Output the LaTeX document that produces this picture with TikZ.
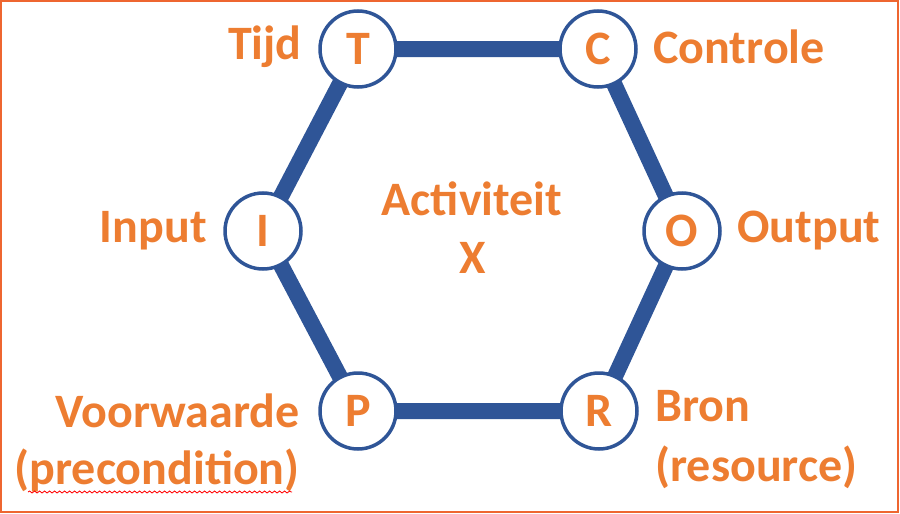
\documentclass[tikz,border=0pt]{standalone}
\usepackage{fontspec}
\setmainfont{Carlito}
\usetikzlibrary{decorations.pathmorphing,backgrounds}
\definecolor{hexblue}{HTML}{2F5597}
\definecolor{txtorange}{HTML}{ED7D31}
\definecolor{frameorange}{HTML}{EE6630}
\begin{document}
\begin{tikzpicture}[x=0.5pt,y=-0.5pt,
  letter/.style={circle,draw=hexblue,line width=1.75pt,fill=white,minimum size=38pt,inner sep=0pt,
    text=txtorange,font=\fontsize{24}{28}\selectfont\bfseries},
  lbl/.style={text=txtorange,font=\fontsize{24}{28}\selectfont\bfseries,inner sep=0pt},
  side/.style={line width=8pt,draw=hexblue}]
\useasboundingbox (0,0) rectangle (900,514);
\draw[frameorange,line width=1pt] (1,1) rectangle (898,512);
% vertices
\node[letter] (T) at (358,49) {T};
\node[letter] (C) at (598,49) {C};
\node[letter] (O) at (682,231) {O};
\node[letter] (R) at (599,411) {R};
\node[letter] (P) at (358,411) {P};
\node[letter] (I) at (263,231) {I};
\begin{scope}[on background layer]
\draw[side] (T.center) -- (C.center) -- (O.center) -- (R.center) -- (P.center) -- (I.center) -- cycle;
\end{scope}
% labels
\node[lbl,anchor=base east] (tijd) at (302,59) {Tijd};
\node[lbl,anchor=base west] (controle) at (653,63) {Controle};
\node[lbl,anchor=base east] (input) at (207,242) {Input};
\node[lbl,anchor=base west] (output) at (737,242) {Output};
\node[lbl,anchor=base east] (voorw) at (300,427) {Voorwaarde};
\node[lbl,anchor=base east] (precond) at (300,484) {(precondition)};
\node[lbl,anchor=base west] (bron) at (655,421) {Bron};
\node[lbl,anchor=base west] (resource) at (655,481) {(resource)};
\node[lbl,anchor=base] (act) at (472,215) {Activiteit};
\node[lbl,anchor=base] (x) at (473,273) {X};
% spell-check squiggle
\coordinate (sq1) at (28,492);
\coordinate (sq2) at (292,492);
\draw[red,line width=0.4pt,decorate,decoration={snake,segment length=2.5pt,amplitude=0.5pt}] (sq1) -- (sq2);
\end{tikzpicture}
\end{document}
